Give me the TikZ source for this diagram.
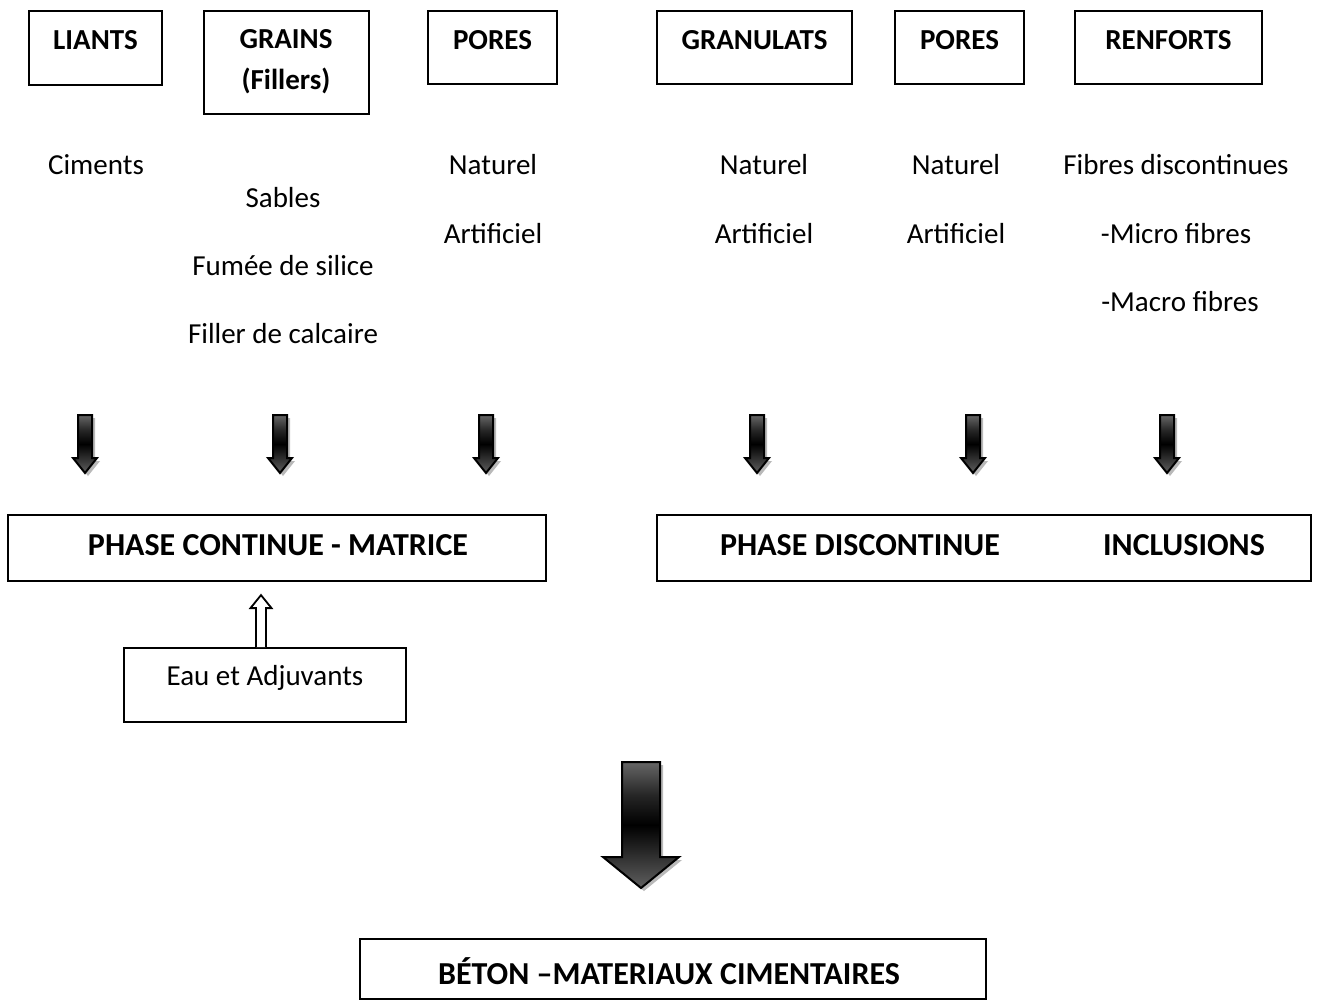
\documentclass[tikz,border=0pt]{standalone}
\usepackage{fontspec}
\setmainfont{Carlito}
\usetikzlibrary{calc}
\pgfdeclareverticalshading{arrshade}{100bp}{color(0bp)=(gray!75!black); color(25bp)=(gray!75!black); color(50bp)=(black); color(62bp)=(black!85); color(75bp)=(gray!80!black); color(100bp)=(gray!80!black)}
\newcommand{\myblkarrow}[6]{%
  \fill[gray!55] ({#1-#5+3},{#2+3}) -- ({#1+#5+3},{#2+3}) -- ({#1+#5+3},{#3+3}) -- ({#1+#6+3},{#3+3}) -- ({#1+3},{#4+3}) -- ({#1-#6+3},{#3+3}) -- ({#1-#5+3},{#3+3}) -- cycle;
  \shade[shading=arrshade, draw=black, line width=1pt, line join=miter] ({#1-#5},{#2}) -- ({#1+#5},{#2}) -- ({#1+#5},{#3}) -- ({#1+#6},{#3}) -- ({#1},{#4}) -- ({#1-#6},{#3}) -- ({#1-#5},{#3}) -- cycle;
}
\begin{document}
\begin{tikzpicture}[x=0.5pt,y=-0.5pt,
  every node/.style={font=\fontsize{14.5}{17}\selectfont},
  box/.style={draw=black, line width=0.9pt, inner sep=0pt},
  bt/.style={font=\fontsize{14.5}{17}\selectfont\bfseries, inner sep=0pt},
  btl/.style={font=\fontsize{16}{19}\selectfont\bfseries, inner sep=0pt},
  tx/.style={inner sep=0pt}]
\useasboundingbox[fill=white] (0,0) rectangle (1317,1000);
% top boxes
\node[box, minimum width=66.5pt, minimum height=37pt] (liants) at (95.5,48) {};
\node[bt] (liantsT) at ($(liants.north)+(0,30)$) {LIANTS};
\node[box, minimum width=82.5pt, minimum height=51.5pt] (grains) at (286.5,62.5) {};
\node[bt, align=center, font=\fontsize{14.5}{20.5}\selectfont\bfseries] (grainsT) at (286,61.5) {GRAINS\\(Fillers)};
\node[box, minimum width=64.5pt, minimum height=36.5pt] (pores1) at (492.5,47.5) {};
\node[bt] (pores1T) at ($(pores1.north)+(0,30)$) {PORES};
\node[box, minimum width=97.5pt, minimum height=36.5pt] (granulats) at (754.5,47.5) {};
\node[bt] (granulatsT) at ($(granulats.north)+(0,30)$) {GRANULATS};
\node[box, minimum width=64.5pt, minimum height=36.5pt] (pores2) at (959.5,47.5) {};
\node[bt] (pores2T) at ($(pores2.north)+(0,30)$) {PORES};
\node[box, minimum width=93.5pt, minimum height=36.5pt] (renforts) at (1168.5,47.5) {};
\node[bt] (renfortsT) at ($(renforts.north)+(0,30)$) {RENFORTS};
% lists
\node[tx] (ciments) at (96,165) {Ciments};
\node[tx] (sables) at (283,198) {Sables};
\node[tx] (fumee) at (283,266) {Fumée de silice};
\node[tx] (filler) at (283,334) {Filler de calcaire};
\node[tx] (nat1) at (493,165) {Naturel};
\node[tx] (art1) at (493,234) {Artificiel};
\node[tx] (nat2) at (764,165) {Naturel};
\node[tx] (art2) at (764,234) {Artificiel};
\node[tx] (nat3) at (956,165) {Naturel};
\node[tx] (art3) at (956,234) {Artificiel};
\node[tx] (fibres) at (1176,165) {Fibres discontinues};
\node[tx] (micro) at (1176,234) {-Micro fibres};
\node[tx] (macro) at (1180,302) {-Macro fibres};
% small arrows
\myblkarrow{85}{415}{458}{473}{7}{12}
\myblkarrow{280}{415}{458}{473}{7}{12}
\myblkarrow{486}{415}{458}{473}{7}{12}
\myblkarrow{757}{415}{458}{473}{7}{12}
\myblkarrow{973}{415}{458}{473}{7}{12}
\myblkarrow{1167}{415}{458}{473}{7}{12}
% phase boxes
\node[box, minimum width=269pt, minimum height=33pt] (phasec) at (277,548) {};
\node[btl] (phasecT) at (278,545) {PHASE CONTINUE - MATRICE};
\node[box, minimum width=327pt, minimum height=33pt] (phased) at (984,548) {};
\node[btl] (phasedT1) at (860,545) {PHASE DISCONTINUE};
\node[btl] (phasedT2) at (1184,545) {INCLUSIONS};
% eau
\node[box, minimum width=141pt, minimum height=37pt] (eau) at (265,685) {};
\node[tx] (eauT) at (265,678) {Eau et Adjuvants};
\draw[line width=0.9pt, fill=white, line join=miter]
  ($(eau.north)+(-9,0)$) -- ($(eau.north)+(-9,-39)$) -- ($(eau.north)+(-14.5,-39)$)
  -- ($(eau.north)+(-4,-52)$) -- ($(eau.north)+(6.5,-39)$) -- ($(eau.north)+(1,-39)$)
  -- ($(eau.north)+(1,0)$);
% big arrow
\myblkarrow{641}{762}{857}{888}{19}{38}
% beton
\node[box, minimum width=313pt, minimum height=30pt] (beton) at (673,969) {};
\node[btl] (betonT) at (669,971) {BÉTON –MATERIAUX CIMENTAIRES};
\end{tikzpicture}
\end{document}
